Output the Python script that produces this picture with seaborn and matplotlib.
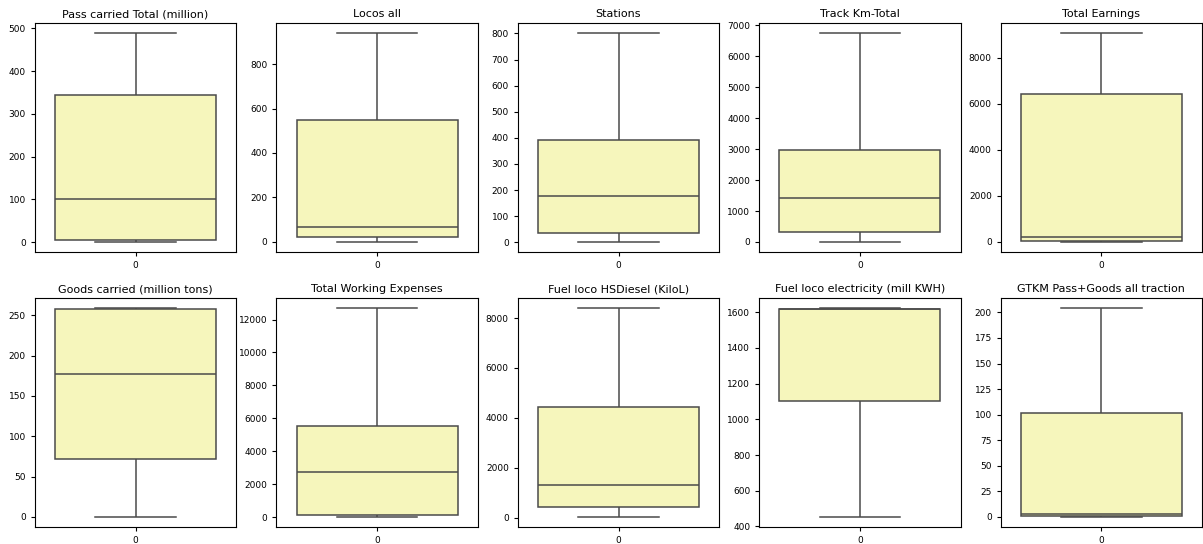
import pandas as pd
import seaborn as sns
import matplotlib
import matplotlib.pyplot as plt


BOX_COLOR = "#ffffb3"
LINE_COLOR = "#4a4a4a"

matplotlib.rc("font", size=7)

# five-number summaries (min, q1, median, q3, max)
titles = [
    "Pass carried Total (million)",
    "Locos all",
    "Stations",
    "Track Km-Total",
    "Total Earnings",
    "Goods carried (million tons)",
    "Total Working Expenses",
    "Fuel loco HSDiesel (KiloL)",
    "Fuel loco electricity (mill KWH)",
    "GTKM Pass+Goods all traction",
]

pass_carried = [1, 5, 101, 343, 488]
locos_all = [1, 20, 68, 548, 938]
stations = [2, 37, 178, 392, 800]
track_km = [10, 320, 1410, 2980, 6740]
total_earnings = [10, 30, 230, 6440, 9050]
goods_carried = [0.5, 72, 177, 258, 258.5]
working_expenses = [30, 110, 2740, 5510, 12680]
fuel_diesel = [40, 440, 1290, 4430, 8390]
fuel_electricity = [455, 1103, 1620, 1621, 1622]
gtkm = [0.2, 0.5, 3, 102, 204]

series = [
    pass_carried, locos_all, stations, track_km, total_earnings,
    goods_carried, working_expenses, fuel_diesel, fuel_electricity, gtkm,
]


def plot_boxes(titles, series):
    fig, axes = plt.subplots(2, 5, figsize=(12.03, 5.44), dpi=100)
    for ax, title, values in zip(axes.flat, titles, series):
        df = pd.DataFrame({0: values})
        sns.boxplot(data=df, ax=ax, color=BOX_COLOR, linecolor=LINE_COLOR,
                    linewidth=1.1, whis=(0, 100))
        ax.set_title(title, fontsize=8, pad=4)
        ax.tick_params(labelsize=6.5, length=3)
    fig.subplots_adjust(left=35 / 1203, right=1202 / 1203,
                        top=1 - 23 / 544, bottom=1 - 527 / 544,
                        wspace=0.2, hspace=0.2)
    return fig


plot_boxes(titles, series)
plt.savefig("out.png")
